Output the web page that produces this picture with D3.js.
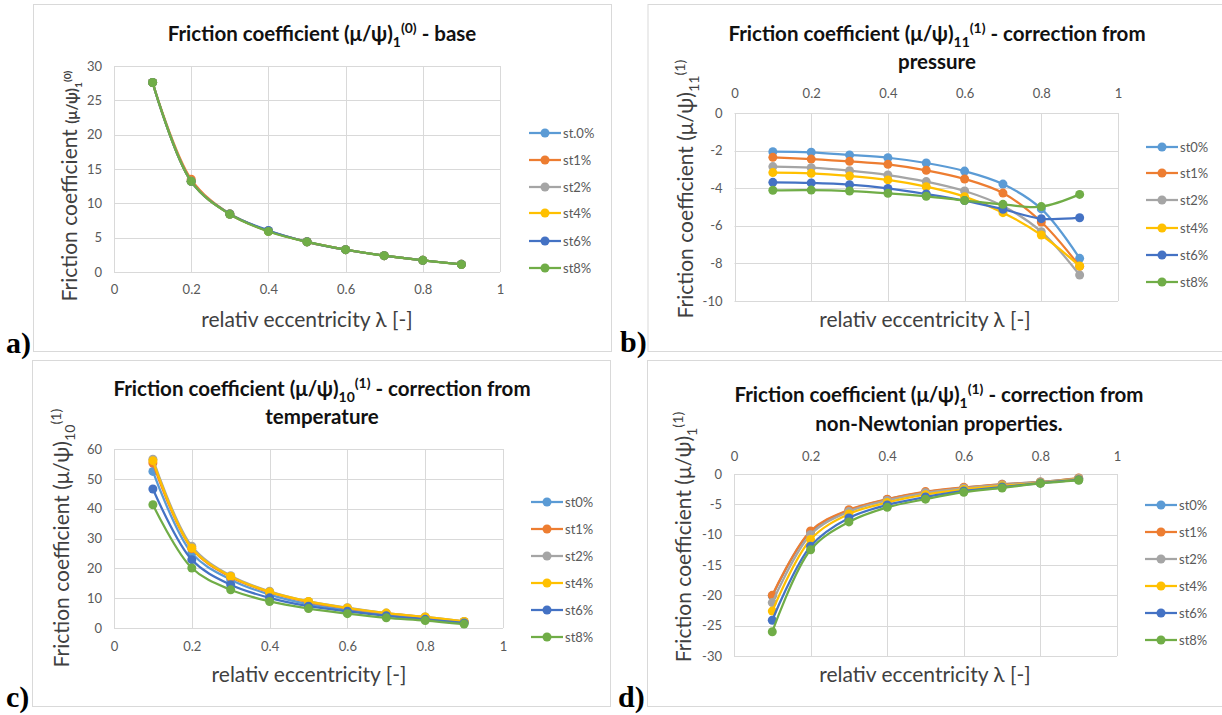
<!DOCTYPE html>
<html>
<head>
<meta charset="utf-8">
<script src="https://cdn.jsdelivr.net/npm/d3@7"></script>
<style>
  body { margin: 0; background: #fff; }
  text { font-family: Lato, "Open Sans", sans-serif; }
</style>
</head>
<body>
<div id="main"></div>
<script>
// eccentricity values and tick labels
const lambda = [0.1, 0.2, 0.3, 0.4, 0.5, 0.6, 0.7, 0.8, 0.9];
const xTicks = [0, 0.2, 0.4, 0.6, 0.8, 1];

const namesA = ["st.0%", "st1%", "st2%", "st4%", "st6%", "st8%"];
const names = ["st0%", "st1%", "st2%", "st4%", "st6%", "st8%"];
const colors = ["#5B9BD5", "#ED7D31", "#A5A5A5", "#FFC000", "#4472C4", "#70AD47"];

// a) base
const dataA = [
  [27.6, 13.2, 8.45, 5.97, 4.4, 3.25, 2.38, 1.7, 1.12],
  [27.6, 13.5, 8.45, 5.97, 4.4, 3.25, 2.38, 1.7, 1.12],
  [27.6, 13.2, 8.45, 5.97, 4.4, 3.25, 2.38, 1.7, 1.12],
  [27.6, 13.2, 8.45, 5.97, 4.4, 3.25, 2.38, 1.7, 1.12],
  [27.6, 13.2, 8.45, 6.05, 4.4, 3.25, 2.38, 1.7, 1.12],
  [27.6, 13.2, 8.4, 5.9, 4.38, 3.25, 2.38, 1.7, 1.1]
];
const yTicksA = [0, 5, 10, 15, 20, 25, 30];

// b) correction from pressure
const dataB = [
  [-2.06, -2.09, -2.23, -2.38, -2.66, -3.09, -3.78, -5.1, -7.73],
  [-2.36, -2.45, -2.57, -2.73, -3.05, -3.51, -4.26, -5.8, -8.15],
  [-2.85, -2.91, -3.07, -3.30, -3.65, -4.15, -4.95, -6.31, -8.62],
  [-3.17, -3.21, -3.35, -3.56, -3.92, -4.45, -5.30, -6.49, -8.14],
  [-3.69, -3.72, -3.81, -4.01, -4.31, -4.66, -5.12, -5.62, -5.57],
  [-4.11, -4.10, -4.15, -4.27, -4.43, -4.66, -4.86, -4.98, -4.33]
];
const yTicksB = [-10, -8, -6, -4, -2, 0];

// c) correction from temperature
const dataC = [
  [52.5, 25.1, 16.2, 11.2, 8.0, 6.1, 4.5, 3.2, 1.9],
  [55.3, 26.6, 17.1, 12.0, 8.7, 6.6, 4.9, 3.6, 2.1],
  [56.6, 27.4, 17.5, 12.3, 8.9, 6.8, 5.0, 3.7, 2.2],
  [56.1, 26.8, 17.3, 12.1, 8.9, 6.7, 5.0, 3.7, 2.2],
  [46.6, 22.9, 14.5, 10.1, 7.3, 5.6, 4.1, 2.9, 1.7],
  [41.3, 20.1, 12.8, 8.9, 6.5, 4.8, 3.4, 2.5, 1.3]
];
const yTicksC = [0, 10, 20, 30, 40, 50, 60];

// d) correction from non-Newtonian properties
const dataD = [
  [-20.1, -9.5, -6.0, -4.2, -3.0, -2.25, -1.7, -1.3, -0.7],
  [-20.0, -9.4, -5.9, -4.15, -2.9, -2.2, -1.7, -1.3, -0.66],
  [-21.2, -10.0, -6.2, -4.35, -3.1, -2.35, -1.8, -1.35, -0.75],
  [-22.6, -10.8, -6.6, -4.7, -3.4, -2.55, -1.95, -1.45, -0.85],
  [-24.1, -11.9, -7.25, -5.1, -3.8, -2.8, -2.15, -1.5, -0.95],
  [-26.0, -12.5, -7.9, -5.5, -4.15, -3.0, -2.3, -1.55, -1.05]
];
const yTicksD = [-30, -25, -20, -15, -10, -5, 0];

const svg = d3.select("#main")
  .append("svg")
  .attr("width", 1222)
  .attr("height", 715)
  .style("display", "block");

// write text made of pieces with sub/superscripts
function rich(sel, segs, size) {
  let shift = 0;
  segs.forEach(s => {
    const small = s.sub || s.sup;
    const base = s.size || size;
    const target = s.sub ? base * 0.3 : s.sup ? -base * 0.38 : 0;
    sel.append("tspan")
      .attr("dy", target - shift)
      .attr("font-size", small ? base * 0.68 : base)
      .attr("font-weight", s.bold ? "bold" : null)
      .text(s.t);
    shift = target;
  });
}

function panel(cfg) {
  const g = svg.append("g");

  g.append("rect")
    .attr("x", cfg.box[0]).attr("y", cfg.box[1])
    .attr("width", cfg.box[2] - cfg.box[0]).attr("height", cfg.box[3] - cfg.box[1])
    .attr("fill", "#fff").attr("stroke", "#d9d9d9").attr("stroke-width", 1);

  const x = d3.scaleLinear().domain([0, 1]).range([cfg.left, cfg.right]);
  const y = d3.scaleLinear().domain(d3.extent(cfg.yTicks)).range([cfg.bottom, cfg.top]);

  // gridlines
  g.selectAll(".hg").data(cfg.yTicks).join("line")
    .attr("x1", cfg.left).attr("x2", cfg.right)
    .attr("y1", d => Math.round(y(d)) + 0.5).attr("y2", d => Math.round(y(d)) + 0.5)
    .attr("stroke", "#d9d9d9");
  g.selectAll(".vg").data(xTicks).join("line")
    .attr("y1", cfg.top).attr("y2", cfg.bottom)
    .attr("x1", d => Math.round(x(d)) + 0.5).attr("x2", d => Math.round(x(d)) + 0.5)
    .attr("stroke", "#d9d9d9");

  // axes (labels only)
  const xAxis = (cfg.xTop ? d3.axisTop(x) : d3.axisBottom(x))
    .tickValues(xTicks).tickSize(0).tickPadding(cfg.xPad).tickFormat(d => String(d));
  const gx = g.append("g")
    .attr("transform", `translate(0,${cfg.xTop ? cfg.top : cfg.bottom})`)
    .call(xAxis);
  const yAxis = d3.axisLeft(y).tickValues(cfg.yTicks).tickSize(0).tickPadding(12)
    .tickFormat(d => String(d));
  const gy = g.append("g").attr("transform", `translate(${cfg.left},0)`).call(yAxis);
  [gx, gy].forEach(a => {
    a.select(".domain").remove();
    a.selectAll("text").attr("fill", "#595959").style("font-size", "13px")
      .style("font-family", "Lato, sans-serif");
  });

  // series
  const line = d3.line()
    .x((d, i) => x(lambda[i]))
    .y(d => y(d))
    .curve(d3.curveCatmullRom.alpha(0.5));
  cfg.data.forEach((s, k) => {
    g.append("path").attr("d", line(s))
      .attr("fill", "none").attr("stroke", colors[k]).attr("stroke-width", 2.25);
    g.selectAll(".m" + k).data(s).join("circle")
      .attr("cx", (d, i) => x(lambda[i])).attr("cy", d => y(d)).attr("r", 4.5)
      .attr("fill", colors[k]);
  });

  // legend
  const lg = g.append("g");
  cfg.names.forEach((n, k) => {
    const ly = cfg.legY[k];
    lg.append("line")
      .attr("x1", cfg.legX).attr("x2", cfg.legX + 32)
      .attr("y1", ly).attr("y2", ly)
      .attr("stroke", colors[k]).attr("stroke-width", 2.25);
    lg.append("circle").attr("cx", cfg.legX + 16).attr("cy", ly).attr("r", 4.5).attr("fill", colors[k]);
    lg.append("text").attr("x", cfg.legX + 34).attr("y", ly + 4.5)
      .attr("fill", "#595959").style("font-size", "13px").text(n);
  });

  // chart title
  cfg.title.forEach((segs, i) => {
    const t = g.append("text")
      .attr("x", cfg.titleX).attr("y", cfg.titleY[i])
      .attr("text-anchor", "middle").attr("fill", "#111")
      .attr("font-weight", "bold");
    rich(t, segs, 20.5);
  });

  // axis titles
  g.append("text")
    .attr("x", cfg.xTitle[0]).attr("y", cfg.xTitle[1])
    .attr("text-anchor", "middle").attr("fill", "#404040")
    .style("font-size", "21px").text(cfg.xTitleText);

  const yt = g.append("text")
    .attr("transform", `translate(${cfg.yTitle[0]},${cfg.yTitle[1]}) rotate(-90)`)
    .attr("text-anchor", "middle").attr("fill", "#404040");
  rich(yt, cfg.yTitleSegs, 21);

  // panel letter
  svg.append("text")
    .attr("x", cfg.letter[0]).attr("y", cfg.letter[1])
    .style("font-family", "'Liberation Serif', 'Times New Roman', serif")
    .style("font-size", "30px").attr("font-weight", "bold").attr("fill", "#000")
    .text(cfg.letterText);
}

const fc = "Friction coefficient (\u03bc/\u03c8)";

panel({
  box: [33.5, 4.5, 611.5, 351.5],
  left: 114, right: 500, top: 66, bottom: 272,
  yTicks: yTicksA, xTop: false, xPad: 13, data: dataA, names: namesA,
  legX: 529, legY: [133, 160, 187, 213, 241, 268],
  title: [[{ t: fc }, { t: "1", sub: true }, { t: "(0)", sup: true }, { t: " - base" }]],
  titleX: 322, titleY: [40.5],
  xTitle: [307, 327], xTitleText: "relativ eccentricity \u03bb [-]",
  yTitle: [77, 186],
  yTitleSegs: [{ t: "Friction coefficient " }, { t: "(\u03bc/\u03c8)", bold: true, size: 15 },
    { t: "1", sub: true, bold: true, size: 15 }, { t: "(0)", sup: true, bold: true, size: 15 }],
  letter: [6, 353], letterText: "a)"
});

panel({
  box: [648, 4.5, 1224, 351.5],
  left: 734.5, right: 1118, top: 113, bottom: 301,
  yTicks: yTicksB, xTop: true, xPad: 15, data: dataB, names: names,
  legX: 1146, legY: [147, 173, 200, 228, 255, 282],
  title: [[{ t: fc }, { t: "11", sub: true }, { t: "(1)", sup: true }, { t: " - correction from" }],
    [{ t: "pressure" }]],
  titleX: 937, titleY: [40.5, 68.5],
  xTitle: [925, 327], xTitleText: "relativ eccentricity \u03bb [-]",
  yTitle: [693, 189],
  yTitleSegs: [{ t: fc }, { t: "11", sub: true }, { t: "(1)", sup: true }],
  letter: [620, 352], letterText: "b)"
});

panel({
  box: [32.5, 360.5, 610.5, 706.5],
  left: 114, right: 503, top: 449, bottom: 628,
  yTicks: yTicksC, xTop: false, xPad: 14, data: dataC, names: names,
  legX: 531, legY: [502, 529, 556, 583, 610, 637],
  title: [[{ t: fc }, { t: "10", sub: true }, { t: "(1)", sup: true }, { t: " - correction from" }],
    [{ t: "temperature" }]],
  titleX: 322, titleY: [395.5, 423.5],
  xTitle: [309, 682], xTitleText: "relativ eccentricity [-]",
  yTitle: [69, 538],
  yTitleSegs: [{ t: fc }, { t: "10", sub: true }, { t: "(1)", sup: true }],
  letter: [6, 707], letterText: "c)"
});

panel({
  box: [647.5, 360.5, 1224, 706.5],
  left: 734, right: 1117, top: 474, bottom: 656,
  yTicks: yTicksD, xTop: true, xPad: 13, data: dataD, names: names,
  legX: 1145, legY: [505, 532, 559, 586, 613, 640],
  title: [[{ t: fc }, { t: "1", sub: true }, { t: "(1)", sup: true }, { t: "  - correction from" }],
    [{ t: "non-Newtonian properties." }]],
  titleX: 939, titleY: [401.5, 430.5],
  xTitle: [925, 682], xTitleText: "relativ eccentricity \u03bb [-]",
  yTitle: [691, 537],
  yTitleSegs: [{ t: fc }, { t: "1", sub: true }, { t: "(1)", sup: true }],
  letter: [618, 707], letterText: "d)"
});
</script>
</body>
</html>
